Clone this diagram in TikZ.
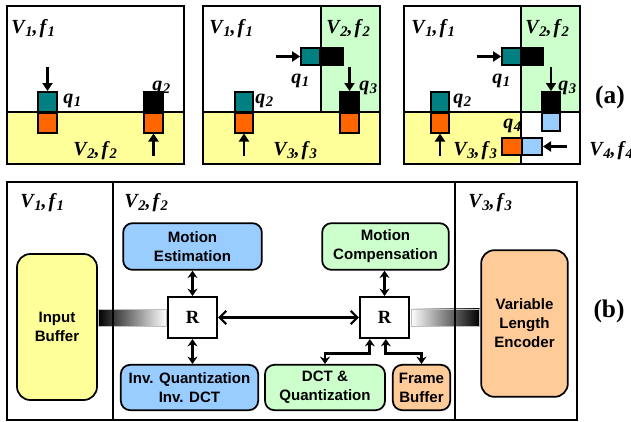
\documentclass[tikz,border=0pt]{standalone}
\usepackage{fontspec}
\setmainfont{Liberation Serif}
\setsansfont{Liberation Sans}
\usetikzlibrary{arrows.meta,positioning}
\definecolor{tealq}{RGB}{0,128,128}
\definecolor{orngq}{RGB}{255,102,0}
\definecolor{lblq}{RGB}{153,204,255}
\definecolor{ylwbg}{RGB}{255,255,153}
\definecolor{grnbg}{RGB}{204,255,204}
\definecolor{blubg}{RGB}{153,204,255}
\definecolor{pchbg}{RGB}{255,204,153}
\newcommand{\vf}[1]{V\kern0.5pt\lower2.5pt\hbox{\fontsize{11}{11}\selectfont#1},\kern1.5pt f\kern1pt\lower2.5pt\hbox{\fontsize{11}{11}\selectfont#1}}
\newcommand{\qq}[1]{q\kern0.5pt\lower2.5pt\hbox{\fontsize{11}{11}\selectfont#1}}
\begin{document}
\begin{tikzpicture}[x=0.75pt,y=-0.75pt,
	frame/.style={line width=2pt},
	part/.style={line width=1.6pt},
	sq/.style={draw,line width=1.5pt,inner sep=0pt,minimum width=14pt,minimum height=15pt},
	sarr/.style={line width=1.8pt,-{Triangle[length=6pt,width=7.5pt]}},
	lbl/.style={inner sep=0pt,anchor=base west,font=\fontsize{15}{15}\selectfont\bfseries\itshape},
	blk/.style={draw,line width=1.3pt,rounded corners=7pt,align=center,inner sep=0pt,font=\fontsize{11.3}{14.3}\selectfont\sffamily\bfseries},
	rtr/.style={draw,line width=1.3pt,fill=white,minimum width=37pt,minimum height=31pt,font=\fontsize{14}{14}\selectfont\bfseries},
	darr/.style={line width=2.2pt,{Stealth[length=5.5pt,width=7.5pt]}-{Stealth[length=5.5pt,width=7.5pt]}},
	harr/.style={line width=1.6pt,{Straight Barb[length=5pt,width=10pt]}-{Straight Barb[length=5pt,width=10pt]}},
	tag/.style={font=\fontsize{19}{19}\selectfont\bfseries}]
	\useasboundingbox (0,0) rectangle (631,421);
	% (a) first panel
	\fill [ylwbg] (7,112) rectangle (184,164);
	\draw [part] (7,112) -- (184,112);
	\draw [frame] (7,6) rectangle (184,164);
	\node [sq,fill=tealq] (pa1) at (47.5,102) {};
	\node [sq,fill=orngq] (pa1b) at (47.5,122.5) {};
	\node [sq,fill=black] (pa2) at (153.5,102) {};
	\node [sq,fill=orngq] (pa2b) at (153.5,122.5) {};
	\draw [sarr] (pa1.north) ++(0,-24) -- (pa1.north);
	\draw [sarr] (pa2b.south) ++(0,22) -- (pa2b.south);
	\node [lbl] (la1) at (11,33) {\vf{1}};
	\node [lbl] (la2) at (73,155) {\vf{2}};
	\node [lbl] (qa1) at (63,103) {\qq{1}};
	\node [lbl] (qa2) at (152,90) {\qq{2}};
	% (a) second panel
	\fill [grnbg] (321,6) rectangle (380,112);
	\fill [ylwbg] (203,112) rectangle (380,164);
	\draw [part] (321,6) -- (321,112);
	\draw [part] (203,112) -- (380,112);
	\draw [frame] (203,6) rectangle (380,164);
	\node [sq,fill=tealq,minimum height=13pt] (pb1) at (310.5,56.5) {};
	\node [sq,fill=black,minimum height=13pt,minimum width=17pt] (pb1b) at (332,56.5) {};
	\node [sq,fill=black] (pb3) at (349.5,102) {};
	\node [sq,fill=orngq] (pb3b) at (349.5,122.5) {};
	\node [sq,fill=tealq] (pb2) at (244,102) {};
	\node [sq,fill=orngq] (pb2b) at (244,122.5) {};
	\draw [sarr] (pb1.west) ++(-24,0) -- (pb1.west);
	\draw [sarr] (pb3.north) ++(0,-24) -- (pb3.north);
	\draw [sarr] (pb2b.south) ++(0,22) -- (pb2b.south);
	\node [lbl] (lb1) at (209,33) {\vf{1}};
	\node [lbl] (lb2) at (326,33) {\vf{2}};
	\node [lbl] (lb3) at (273,155) {\vf{3}};
	\node [lbl] (qb1) at (291,83) {\qq{1}};
	\node [lbl] (qb2) at (255,103) {\qq{2}};
	\node [lbl] (qb3) at (359,90) {\qq{3}};
	% (a) third panel
	\fill [grnbg] (521,6) rectangle (580,112);
	\fill [ylwbg] (404,112) rectangle (521,164);
	\draw [part] (521,6) -- (521,164);
	\draw [part] (404,112) -- (580,112);
	\draw [frame] (404,6) rectangle (580,164);
	\node [sq,fill=tealq,minimum height=13pt] (pc1) at (511.5,56.5) {};
	\node [sq,fill=black,minimum height=13pt,minimum width=17pt] (pc1b) at (532,56.5) {};
	\node [sq,fill=black] (pc3) at (551,102) {};
	\node [sq,fill=lblq,minimum height=13.5pt] (pc3b) at (551,121.5) {};
	\node [sq,fill=tealq] (pc2) at (440,102) {};
	\node [sq,fill=orngq] (pc2b) at (440,122.5) {};
	\node [sq,fill=orngq,minimum width=15pt,minimum height=13pt] (pc4) at (512,146.5) {};
	\node [sq,fill=lblq,minimum width=15pt,minimum height=13pt] (pc4b) at (532,146.5) {};
	\draw [sarr] (pc1.west) ++(-24,0) -- (pc1.west);
	\draw [sarr] (pc3.north) ++(0,-24) -- (pc3.north);
	\draw [sarr] (pc2b.south) ++(0,22) -- (pc2b.south);
	\draw [sarr] (pc4b.east) ++(24,0) -- (pc4b.east);
	\node [lbl] (lc1) at (411,33) {\vf{1}};
	\node [lbl] (lc2) at (525,33) {\vf{2}};
	\node [lbl] (lc3) at (453,155) {\vf{3}};
	\node [lbl] (lc4) at (589,155) {\vf{4}};
	\node [lbl] (qc1) at (492,83) {\qq{1}};
	\node [lbl] (qc2) at (453,103) {\qq{2}};
	\node [lbl] (qc3) at (558,90) {\qq{3}};
	\node [lbl] (qc4) at (503,128) {\qq{4}};
	\node [tag] (taga) at (610,97) {(a)};
	% (b)
	\draw [frame] (7,182) rectangle (577,420);
	\node [lbl] (lv1) at (20,207) {\vf{1}};
	\node [lbl] (lv2) at (124,207) {\vf{2}};
	\node [lbl] (lv3) at (468,207) {\vf{3}};
	\node [blk,fill=ylwbg,rounded corners=10pt,minimum width=60pt,minimum height=109.5pt] (ib) at (57,327) {Input\\Buffer};
	\node [blk,fill=blubg,minimum width=104pt,minimum height=35pt] (me) at (192.5,246.5) {Motion\\Estimation};
	\node [blk,fill=blubg,minimum width=103pt,minimum height=34pt] (iq) at (189.5,387.5) {Inv. Quantization\\Inv. DCT};
	\node [blk,fill=grnbg,minimum width=95pt,minimum height=35pt] (mc) at (385.5,246.5) {Motion\\Compensation};
	\node [blk,fill=grnbg,minimum width=90pt,minimum height=34pt] (dct) at (325,387.5) {DCT \&\\Quantization};
	\node [blk,fill=pchbg,minimum width=43pt,minimum height=34pt] (fb) at (421.5,387.5) {Frame\\Buffer};
	\node [blk,fill=pchbg,rounded corners=10pt,minimum width=65pt,minimum height=110pt] (vle) at (524.5,323.5) {Variable\\Length\\Encoder};
	\node [rtr] (r1) at (192.5,317.5) {R};
	\node [rtr] (r2) at (384.5,317.5) {R};
	\coordinate (g1) at (ib.east |- r1.west);
	\coordinate (g2) at (vle.west |- r2.east);
	\shade [left color=black,right color=white,draw=gray!50,line width=0.4pt] (g1) ++(0.8,-8.5) rectangle ([yshift=-6.4pt,xshift=-0.6pt]r1.west);
	\shade [left color=white,right color=black,draw=gray!50,line width=0.4pt] ([yshift=6.4pt,xshift=0.6pt]r2.east) rectangle ([yshift=-6.4pt,xshift=-0.6pt]g2);
	\draw [frame] (113,182) -- (113,420);
	\draw [frame] (455,182) -- (455,420);
	\draw [darr] (me.south -| r1) -- (r1.north);
	\draw [darr] (r1.south) -- (r1.south |- iq.north);
	\draw [harr] (r1.east) -- (r2.west);
	\draw [darr] (r2.north |- mc.south) -- (r2.north);
	\draw [darr] ([xshift=-11pt]r2.south) -- ++(0,14) -| (dct.north);
	\draw [darr] ([xshift=1pt]r2.south) -- ++(0,14) -| (fb.north);
	\node [tag] (tagb) at (609,311) {(b)};
\end{tikzpicture}
\end{document}
